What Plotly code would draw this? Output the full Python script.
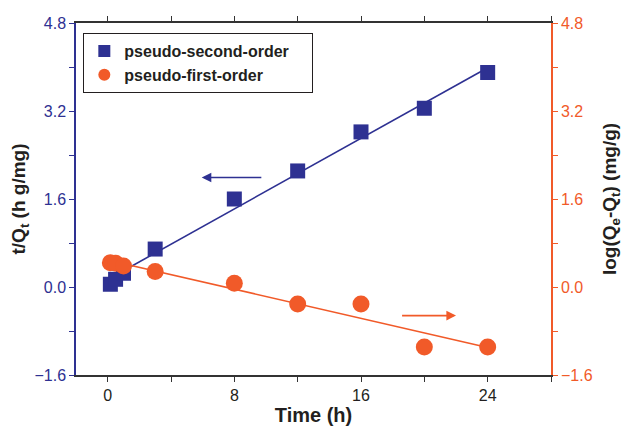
import numpy as np
import plotly.graph_objects as go

# Sampling times (h)
time_h = [0.17, 0.5, 1, 3, 8, 12, 16, 20, 24]
# Pseudo-second-order linearisation: t/Qt (h g/mg)
t_over_qt = [0.05, 0.14, 0.25, 0.69, 1.60, 2.11, 2.82, 3.25, 3.90]
# Pseudo-first-order linearisation: log(Qe-Qt) (mg/g)
log_qe_qt = [0.44, 0.43, 0.38, 0.28, 0.07, -0.31, -0.31, -1.09, -1.09]

BLUE = "#2E3192"
ORANGE = "#F15A29"
INK = "#231F20"
FONT = "Liberation Sans, Arial, sans-serif"

t_arr = np.array(time_h)
fit_t = np.array([t_arr.min(), t_arr.max()])
s2, c2 = np.polyfit(t_arr, t_over_qt, 1)
s1, c1 = np.polyfit(t_arr, log_qe_qt, 1)

fig = go.Figure()

# Linear fits
fig.add_trace(go.Scatter(x=fit_t, y=s2 * fit_t + c2, mode="lines",
                         line=dict(color=BLUE, width=1.6), showlegend=False,
                         hoverinfo="skip"))
fig.add_trace(go.Scatter(x=fit_t, y=s1 * fit_t + c1, mode="lines",
                         line=dict(color=ORANGE, width=1.6), showlegend=False,
                         hoverinfo="skip", yaxis="y2"))

# Experimental points
fig.add_trace(go.Scatter(x=time_h, y=t_over_qt, mode="markers",
                         name="<b>pseudo-second-order</b>" + "\u00a0" * 4,
                         marker=dict(symbol="square", size=15, color=BLUE)))
fig.add_trace(go.Scatter(x=time_h, y=log_qe_qt, mode="markers",
                         name="<b>pseudo-first-order</b>",
                         marker=dict(symbol="circle", size=17, color=ORANGE),
                         yaxis="y2"))

# Arrows pointing to each series' axis
fig.add_annotation(x=5.94, y=1.99, ax=9.8, ay=1.99, xref="x", yref="y",
                   axref="x", ayref="y", showarrow=True, arrowhead=2,
                   arrowsize=1.2, arrowwidth=1.6, arrowcolor=BLUE, text="")
fig.add_annotation(x=22.0, y=-0.52, ax=18.5, ay=-0.52, xref="x", yref="y",
                   axref="x", ayref="y", showarrow=True, arrowhead=2,
                   arrowsize=1.2, arrowwidth=1.6, arrowcolor=ORANGE, text="")

fig.update_layout(
    width=623, height=433,
    margin=dict(l=76, r=72, t=23, b=58),
    paper_bgcolor="white", plot_bgcolor="white",
    font=dict(family=FONT, size=16, color=INK),
    xaxis=dict(
        range=[-2, 28], dtick=8, tick0=0, automargin=False,
        showline=True, linecolor="#333333", linewidth=1.5, mirror="ticks",
        ticks="outside", ticklen=5, tickcolor="#333333",
        minor=dict(dtick=4, tick0=0, ticks="outside", ticklen=5, tickcolor="#333333"),
        showgrid=False, zeroline=False,
        tickfont=dict(size=16, color=INK),
        title=dict(text="<b>Time (h)</b>", font=dict(size=20, color=INK), standoff=4),
    ),
    yaxis=dict(
        range=[-1.6, 4.8], dtick=1.6, tick0=0, tickformat=".1f", automargin=False,
        showline=True, linecolor=BLUE, linewidth=1.5,
        ticks="outside", ticklen=5, tickcolor=BLUE,
        minor=dict(dtick=0.8, tick0=0, ticks="outside", ticklen=5, tickcolor=BLUE),
        showgrid=False, zeroline=False,
        tickfont=dict(size=16, color=BLUE),
        title=dict(text="<b>t/Q<sub>t</sub> (h g/mg)</b>",
                   font=dict(size=19, color=INK), standoff=4),
    ),
    yaxis2=dict(
        range=[-1.6, 4.8], dtick=1.6, tick0=0, tickformat=".1f", automargin=False,
        overlaying="y", side="right", anchor="x",
        showline=True, linecolor=ORANGE, linewidth=1.5,
        ticks="outside", ticklen=5, tickcolor=ORANGE,
        minor=dict(dtick=0.8, tick0=0, ticks="outside", ticklen=5, tickcolor=ORANGE),
        showgrid=False, zeroline=False,
        tickfont=dict(size=16, color=ORANGE),
        title=dict(text="<b>log(Q<sub>e</sub>-Q<sub>t</sub>) (mg/g)</b>",
                   font=dict(size=19, color=INK), standoff=14),
    ),
    legend=dict(
        x=0.015, y=0.972, xanchor="left", yanchor="top",
        bgcolor="white", bordercolor=INK, borderwidth=1.2,
        font=dict(size=16, color=INK, family=FONT),
        itemsizing="constant", tracegroupgap=0,
    ),
)

fig.write_html("out.html")
